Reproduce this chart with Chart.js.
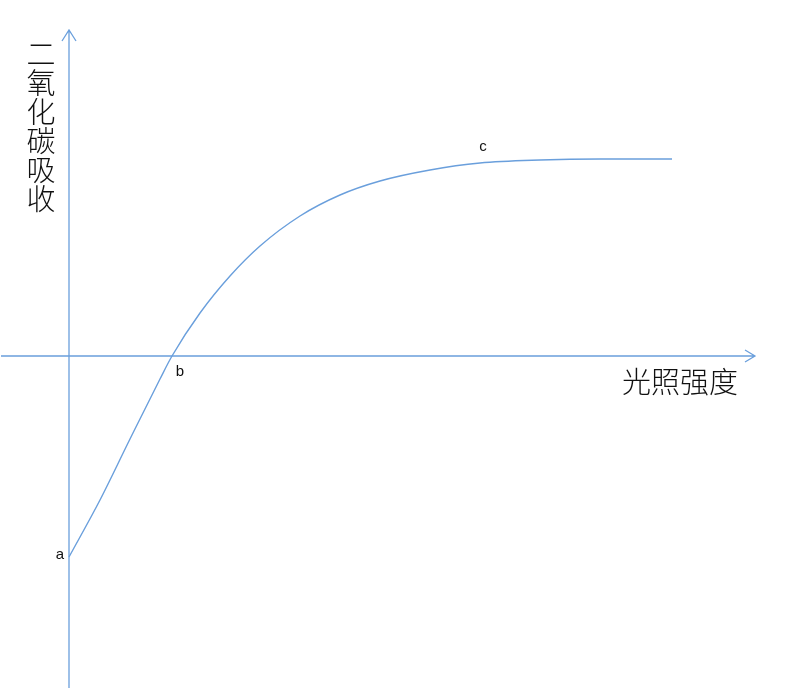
<!DOCTYPE html>
<html>
<head>
<meta charset="utf-8">
<script src="https://cdn.jsdelivr.net/npm/chart.js@4/dist/chart.umd.min.js"></script>
<style>
  html, body { margin: 0; padding: 0; background: #fff; }
  #chart { display: block; }
</style>
</head>
<body>
<canvas id="chart" width="800" height="700"></canvas>
<script>
// light intensity (x) vs CO2 absorption (y)
const lightIntensity = [0, 3.1, 6.1, 9.1, 10.3, 13.1, 16.1, 19.1, 23.1, 27.1, 31.1, 36.1, 41.1, 47.1, 53.1, 60.3]
const co2Absorption = [-20.1, -14.4, -8.3, -2.3, 0, 4.3, 8.0, 11.0, 14.0, 16.1, 17.5, 18.6, 19.3, 19.6, 19.7, 19.7]

const pointNames = ['a', 'b', 'c']
const pointX = [0, 10.3, 41.4]
const pointY = [-20.1, 0, 19.4]

const xTitle = '光照强度'
const yTitle = '二氧化碳吸收'

const blue = '#6a9fdc'

const axesPlugin = {
  id: 'axesPlugin',
  afterDraw(chart) {
    const ctx = chart.ctx
    const x = chart.scales.x
    const y = chart.scales.y
    const area = chart.chartArea
    const x0 = x.getPixelForValue(0)
    const y0 = y.getPixelForValue(0)

    ctx.save()
    ctx.strokeStyle = blue
    ctx.lineWidth = 1.3
    ctx.beginPath()
    // horizontal axis with arrow
    ctx.moveTo(area.left, y0)
    ctx.lineTo(area.right, y0)
    ctx.moveTo(area.right - 10, y0 - 6)
    ctx.lineTo(area.right, y0)
    ctx.lineTo(area.right - 10, y0 + 6)
    // vertical axis with arrow
    ctx.moveTo(x0, area.bottom)
    ctx.lineTo(x0, area.top)
    ctx.moveTo(x0 - 7, area.top + 11)
    ctx.lineTo(x0, area.top)
    ctx.lineTo(x0 + 7, area.top + 11)
    ctx.stroke()

    // axis titles
    ctx.fillStyle = '#111'
    ctx.font = '300 29px "Noto Sans CJK SC"'
    ctx.textAlign = 'center'
    ctx.textBaseline = 'middle'
    yTitle.split('').forEach((ch, i) => {
      ctx.fillText(ch, 41, 54 + i * 29)
    })
    ctx.textAlign = 'left'
    ctx.fillText(xTitle, 622, 382)

    // point labels
    ctx.font = '15px "Liberation Sans"'
    ctx.textAlign = 'center'
    const offsets = [[-9, -2], [8, 16], [0, -15]]
    pointNames.forEach((name, i) => {
      const px = x.getPixelForValue(pointX[i]) + offsets[i][0]
      const py = y.getPixelForValue(pointY[i]) + offsets[i][1]
      ctx.fillText(name, px, py)
    })
    ctx.restore()
  }
}

new Chart(document.getElementById('chart'), {
  type: 'line',
  data: {
    datasets: [{
      data: lightIntensity.map((v, i) => ({ x: v, y: co2Absorption[i] })),
      borderColor: blue,
      borderWidth: 1.4,
      pointRadius: 0,
      fill: false,
      cubicInterpolationMode: 'monotone'
    }]
  },
  options: {
    responsive: false,
    animation: false,
    layout: { padding: { left: 1, right: 45, top: 30, bottom: 12 } },
    plugins: { legend: { display: false }, tooltip: { enabled: false } },
    scales: {
      x: { type: 'linear', min: -6.8, max: 68.6, display: false },
      y: { type: 'linear', min: -33.2, max: 32.6, display: false }
    }
  },
  plugins: [axesPlugin]
})
</script>
</body>
</html>
